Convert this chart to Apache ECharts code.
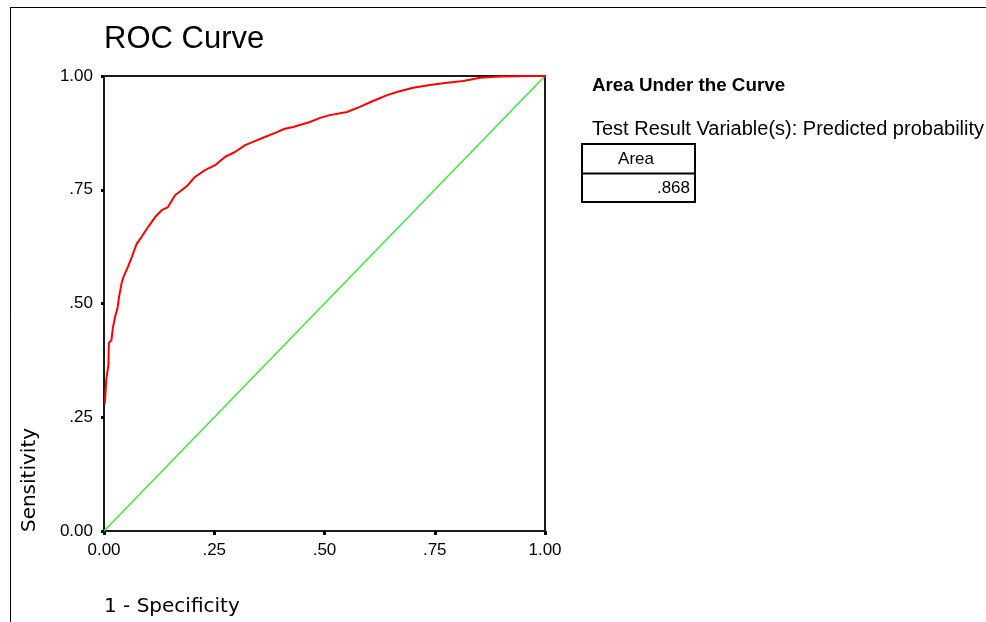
<!DOCTYPE html>
<html>
<head>
<meta charset="utf-8">
<script src="https://cdn.jsdelivr.net/npm/echarts@6/dist/echarts.min.js"></script>
<style>
html,body{margin:0;padding:0;background:#fff;}
#chart{width:986px;height:622px;}
</style>
</head>
<body>
<div id="chart"></div>
<script>
// ROC curve: 1 - Specificity (false positive rate) vs Sensitivity
const fpr = [0.002, 0.005, 0.010, 0.011, 0.017, 0.020, 0.025, 0.031, 0.034, 0.040, 0.044, 0.049, 0.054, 0.063, 0.074, 0.085, 0.100, 0.116, 0.131, 0.145, 0.161, 0.176, 0.190, 0.206, 0.229, 0.252, 0.274, 0.297, 0.320, 0.342, 0.365, 0.388, 0.410, 0.429, 0.467, 0.490, 0.512, 0.551, 0.580, 0.610, 0.642, 0.664, 0.701, 0.739, 0.778, 0.814, 0.853, 0.898, 0.966, 1.000];
const tpr = [0.280, 0.332, 0.365, 0.413, 0.420, 0.446, 0.470, 0.492, 0.514, 0.545, 0.558, 0.569, 0.580, 0.602, 0.631, 0.646, 0.668, 0.690, 0.705, 0.712, 0.738, 0.749, 0.760, 0.778, 0.793, 0.804, 0.822, 0.833, 0.848, 0.857, 0.866, 0.875, 0.884, 0.888, 0.899, 0.908, 0.914, 0.921, 0.932, 0.945, 0.958, 0.965, 0.974, 0.980, 0.985, 0.989, 0.996, 0.999, 1.000, 1.000];
// Reference (chance) line
const refX = [0, 1];
const refY = [0, 1];
// Tick labels
const tickValues = [0, 0.25, 0.5, 0.75, 1];
const tickLabels = ['0.00', '.25', '.50', '.75', '1.00'];
// Area-under-the-curve table
const aucHeader = 'Area';
const aucValue = '.868';

const FONT = '"Liberation Sans", Arial, sans-serif';
const fmt = v => {
  const i = tickValues.findIndex(t => Math.abs(t - v) < 1e-9);
  return i >= 0 ? tickLabels[i] : '';
};

const chart = echarts.init(document.getElementById('chart'), null, {renderer: 'canvas'});
chart.setOption({
  backgroundColor: '#ffffff',
  animation: false,
  title: {
    text: 'ROC Curve',
    left: 99,
    top: 19,
    textStyle: {fontFamily: FONT, fontSize: 31, fontWeight: 'normal', color: '#000'}
  },
  grid: {
    left: 104, right: 441, top: 76, bottom: 91,
    show: true, borderColor: '#1a1a1a', borderWidth: 2, backgroundColor: 'transparent'
  },
  xAxis: {
    type: 'value', min: 0, max: 1, interval: 0.25,
    axisLine: {show: true, onZero: false, lineStyle: {color: '#1a1a1a', width: 2}},
    axisTick: {show: true, length: 4, lineStyle: {color: '#000', width: 3}},
    axisLabel: {margin: 11, fontFamily: FONT, fontSize: 17, color: '#000', formatter: fmt},
    splitLine: {show: false}
  },
  yAxis: {
    type: 'value', min: 0, max: 1, interval: 0.25,
    axisLine: {show: true, onZero: false, lineStyle: {color: '#1a1a1a', width: 2}},
    axisTick: {show: true, length: 3, lineStyle: {color: '#000', width: 3}},
    axisLabel: {margin: 11, fontFamily: FONT, fontSize: 17, color: '#000', formatter: fmt},
    splitLine: {show: false}
  },
  series: [
    {
      name: 'Reference Line',
      type: 'line',
      data: refX.map((x, i) => [x, refY[i]]),
      showSymbol: false,
      lineStyle: {color: '#33ee33', width: 1.4},
      z: 2
    },
    {
      name: 'Predicted probability',
      type: 'line',
      data: fpr.map((x, i) => [x, tpr[i]]),
      showSymbol: false,
      lineStyle: {color: '#ff0000', width: 2},
      z: 3
    }
  ],
  graphic: [
    // outer frame (left and top edges)
    {type: 'line', shape: {x1: 10.5, y1: 7.5, x2: 10.5, y2: 622}, style: {stroke: '#000', lineWidth: 1}},
    {type: 'line', shape: {x1: 10, y1: 7.5, x2: 986, y2: 7.5}, style: {stroke: '#000', lineWidth: 1}},
    // axis titles
    {type: 'text', x: 30, y: 480, rotation: Math.PI / 2,
      style: {text: 'Sensitivity', font: '20px "DejaVu Sans", sans-serif', fill: '#000', textAlign: 'center', textVerticalAlign: 'middle'}},
    {type: 'text', x: 104, y: 607,
      style: {text: '1 - Specificity', font: '20px "DejaVu Sans", sans-serif', fill: '#000', textAlign: 'left', textVerticalAlign: 'middle'}},
    // AUC panel
    {type: 'text', x: 592, y: 86,
      style: {text: 'Area Under the Curve', font: 'bold 18.8px ' + FONT, fill: '#000', textAlign: 'left', textVerticalAlign: 'middle'}},
    {type: 'text', x: 592, y: 129,
      style: {text: 'Test Result Variable(s): Predicted probability', font: '20px ' + FONT, fill: '#000', textAlign: 'left', textVerticalAlign: 'middle'}},
    {type: 'rect', shape: {x: 582, y: 144, width: 113, height: 58}, style: {fill: '#fff', stroke: '#000', lineWidth: 2}},
    {type: 'line', shape: {x1: 582, y1: 173.5, x2: 695, y2: 173.5}, style: {stroke: '#000', lineWidth: 2}},
    {type: 'text', x: 636, y: 159,
      style: {text: aucHeader, font: '17px ' + FONT, fill: '#000', textAlign: 'center', textVerticalAlign: 'middle'}},
    {type: 'text', x: 690, y: 188,
      style: {text: aucValue, font: '17px ' + FONT, fill: '#000', textAlign: 'right', textVerticalAlign: 'middle'}}
  ]
});
</script>
</body>
</html>
